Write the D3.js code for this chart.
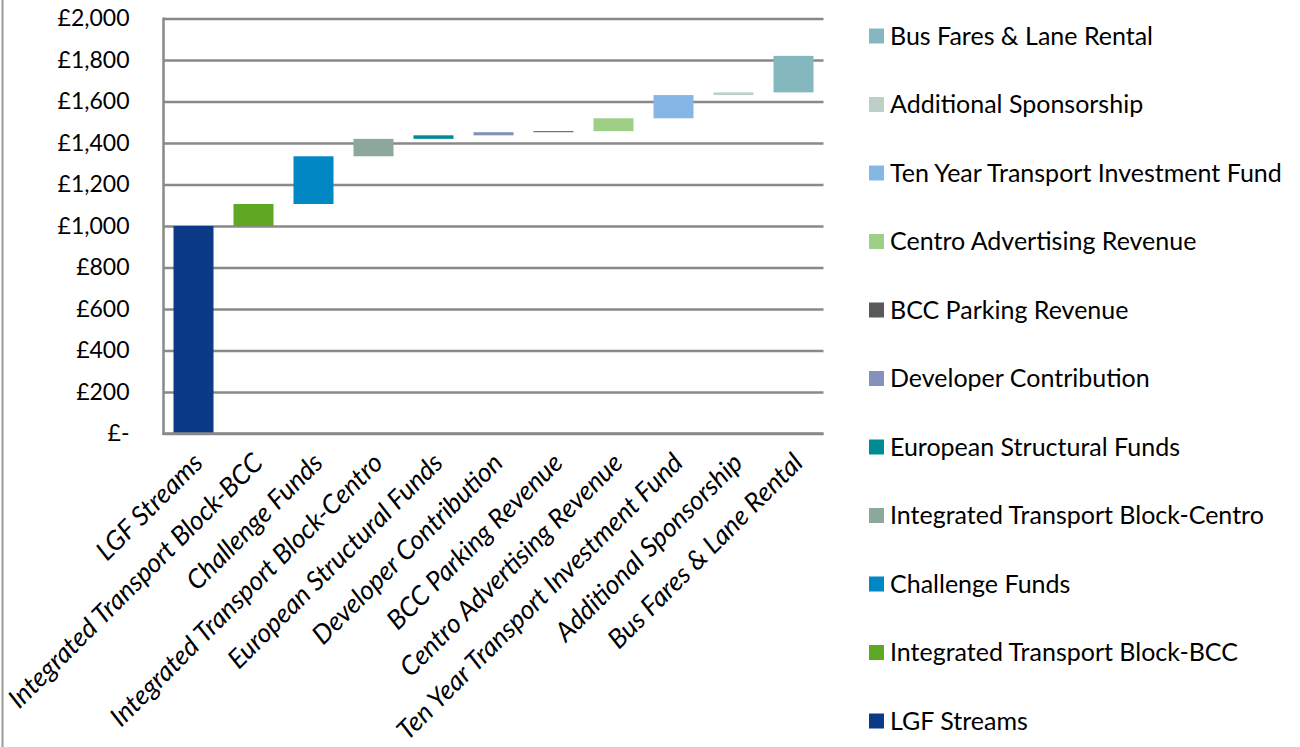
<!DOCTYPE html>
<html>
<head>
<meta charset="utf-8">
<script src="https://cdn.jsdelivr.net/npm/d3@7"></script>
<style>
  html, body { margin: 0; padding: 0; background: #fff; }
  svg { display: block; }
  text { font-family: Lato, "Open Sans", sans-serif; fill: #000; }
</style>
</head>
<body>
<svg id="chart" width="1300" height="747"></svg>
<script>
const categories = [
  "LGF Streams",
  "Integrated Transport Block-BCC",
  "Challenge Funds",
  "Integrated Transport Block-Centro",
  "European Structural Funds",
  "Developer Contribution",
  "BCC Parking Revenue",
  "Centro Advertising Revenue",
  "Ten Year Transport Investment Fund",
  "Additional Sponsorship",
  "Bus Fares & Lane Rental"
];
const values = [1000, 106, 230, 84, 17, 15, 5, 62, 112, 13, 176];
const colors = ["#0B3A87", "#5EA823", "#0087C4", "#8CA89A", "#008B92", "#8491BA",
                "#595959", "#9ECF86", "#85B7E5", "#BCD0C8", "#84B8BE"];
const yTicks = [0, 200, 400, 600, 800, 1000, 1200, 1400, 1600, 1800, 2000];
const yTickLabels = ["£-", "£200", "£400", "£600", "£800", "£1,000", "£1,200", "£1,400", "£1,600", "£1,800", "£2,000"];

(function () {
// waterfall bases
let run = 0;
const bars = categories.map((c, i) => {
  const b = { cat: c, start: run, end: run + values[i], color: colors[i] };
  run += values[i];
  return b;
});

const svg = d3.select("#chart");
const pLeft = 163.5, pRight = 823.5, pTop = 18.5, pBottom = 433.5;

const x = d3.scaleBand().domain(categories).range([pLeft, pRight]).paddingInner(1/3).paddingOuter(1/6);
const y = d3.scaleLinear().domain([0, 2000]).range([pBottom, pTop]);

// outer chart border (left edge)
svg.append("line").attr("x1", 2.5).attr("x2", 2.5).attr("y1", 0).attr("y2", 747)
  .attr("stroke", "#9a9a9a").attr("stroke-width", 2);

// gridlines + y labels
const yAxis = d3.axisLeft(y).tickValues(yTicks).tickSize(-(pRight - pLeft))
  .tickFormat((d, i) => yTickLabels[i]).tickPadding(34);
const gy = svg.append("g").attr("transform", `translate(${pLeft},0)`).call(yAxis);
gy.select(".domain").remove();
gy.selectAll(".tick line").attr("stroke", "#898989").attr("stroke-width", 2.5);
gy.selectAll(".tick text").attr("font-size", 23).attr("font-family", "Lato, sans-serif").attr("fill", "#000");

// left axis line
svg.append("line").attr("x1", pLeft).attr("x2", pLeft).attr("y1", pTop - 1).attr("y2", pBottom + 1.5)
  .attr("stroke", "#898989").attr("stroke-width", 2.5);

// bars
svg.append("g").selectAll("rect").data(bars).join("rect")
  .attr("x", d => x(d.cat))
  .attr("width", x.bandwidth())
  .attr("y", d => y(d.end))
  .attr("height", d => y(d.start) - y(d.end))
  .attr("fill", d => d.color);

// x axis line
svg.append("line").attr("x1", pLeft - 1).attr("x2", pRight).attr("y1", pBottom).attr("y2", pBottom)
  .attr("stroke", "#898989").attr("stroke-width", 2.5);

// x labels
const xAxis = d3.axisBottom(x).tickSize(0).tickPadding(0);
const gx = svg.append("g").attr("transform", `translate(0,${pBottom})`).call(xAxis);
gx.select(".domain").remove();
gx.selectAll(".tick text")
  .attr("font-size", 26.5)
  .attr("font-style", "italic")
  .attr("font-family", "Lato, sans-serif")
  .attr("fill", "#000")
  .attr("text-anchor", "end")
  .attr("dy", null)
  .attr("y", 0)
  .attr("transform", "translate(11,31) rotate(-45)");

// legend (reverse order)
const legendItems = bars.slice().reverse();
const ly = d3.scalePoint().domain(legendItems.map(d => d.cat)).range([36, 721]);
const lg = svg.append("g").selectAll("g").data(legendItems).join("g")
  .attr("transform", d => `translate(869,${ly(d.cat)})`);
lg.append("rect").attr("x", 0).attr("y", -7.5).attr("width", 15).attr("height", 15).attr("fill", d => d.color);
lg.append("text").attr("x", 21).attr("y", 0).attr("dy", "0.35em").attr("font-size", 25)
  .text(d => d.cat);
})();
</script>
</body>
</html>
